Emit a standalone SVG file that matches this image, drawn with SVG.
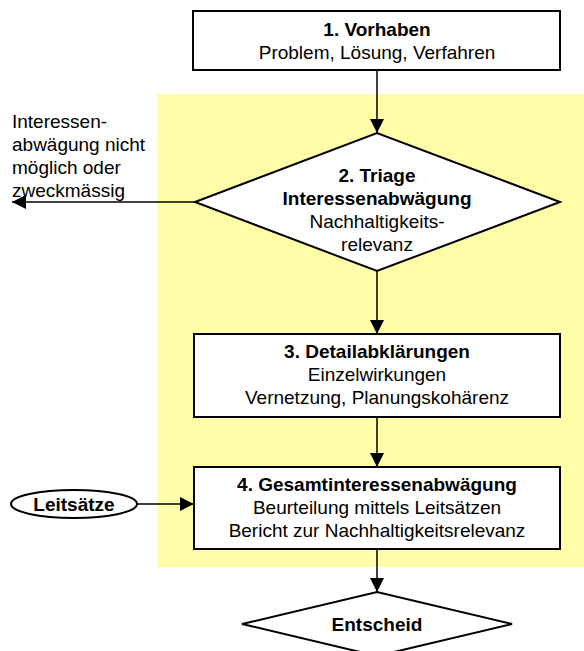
<svg xmlns="http://www.w3.org/2000/svg" width="584" height="651" viewBox="0 0 584 651">
<defs>
<style>
text{font-family:"Liberation Sans",Arial,sans-serif;font-size:19px;fill:#000;text-anchor:middle}
.b{font-weight:bold}
.l{text-anchor:start}
.node{fill:#fff;stroke:#000;stroke-width:2}
.con{fill:none;stroke:#000;stroke-width:1.5}
</style>
<marker id="ah" viewBox="0 0 14 14" refX="14" refY="7" markerWidth="14" markerHeight="14" markerUnits="userSpaceOnUse" orient="auto">
<path d="M0,0 L14,7 L0,14 Z" fill="#000"/>
</marker>
</defs>
<rect id="bg" x="157" y="94" width="427" height="473" fill="#FFFDA8"/>
<g id="connectors">
<line class="con" x1="377" y1="70" x2="377" y2="133" marker-end="url(#ah)"/>
<line class="con" x1="195" y1="202" x2="12" y2="202" marker-end="url(#ah)"/>
<line class="con" x1="377" y1="271" x2="377" y2="334" marker-end="url(#ah)"/>
<line class="con" x1="377" y1="417" x2="377" y2="467" marker-end="url(#ah)"/>
<line class="con" x1="137" y1="504" x2="194" y2="504" marker-end="url(#ah)"/>
<line class="con" x1="377" y1="549" x2="377" y2="592" marker-end="url(#ah)"/>
</g>
<g id="n1">
<rect class="node" x="193" y="11" width="367" height="59"/>
<text class="b" x="377" y="36">1. Vorhaben</text>
<text x="377" y="59">Problem, Lösung, Verfahren</text>
</g>
<g id="n2">
<polygon class="node" points="195,202 377,133 560,202 377,271"/>
<text class="b" x="377" y="182">2. Triage</text>
<text class="b" x="377" y="205">Interessenabwägung</text>
<text x="377" y="228">Nachhaltigkeits-</text>
<text x="377" y="251">relevanz</text>
</g>
<g id="label-left">
<text class="l" x="12" y="128">Interessen-</text>
<text class="l" x="12" y="151">abwägung nicht</text>
<text class="l" x="12" y="174">möglich oder</text>
<text class="l" x="12" y="197">zweckmässig</text>
</g>
<g id="n3">
<rect class="node" x="194" y="334" width="366" height="83"/>
<text class="b" x="377" y="358">3. Detailabklärungen</text>
<text x="377" y="381">Einzelwirkungen</text>
<text x="377" y="404">Vernetzung, Planungskohärenz</text>
</g>
<g id="n4">
<rect class="node" x="194" y="467" width="366" height="82"/>
<text class="b" x="377" y="491">4. Gesamtinteressenabwägung</text>
<text x="377" y="514">Beurteilung mittels Leitsätzen</text>
<text x="377" y="537">Bericht zur Nachhaltigkeitsrelevanz</text>
</g>
<g id="leitsaetze">
<ellipse class="node" cx="74" cy="504" rx="63" ry="14" stroke-width="1.5"/>
<text class="b" x="74" y="511">Leitsätze</text>
</g>
<g id="entscheid">
<polygon class="node" points="242,624 377,592 512,624 377,656"/>
<text class="b" x="377" y="631">Entscheid</text>
</g>
</svg>
